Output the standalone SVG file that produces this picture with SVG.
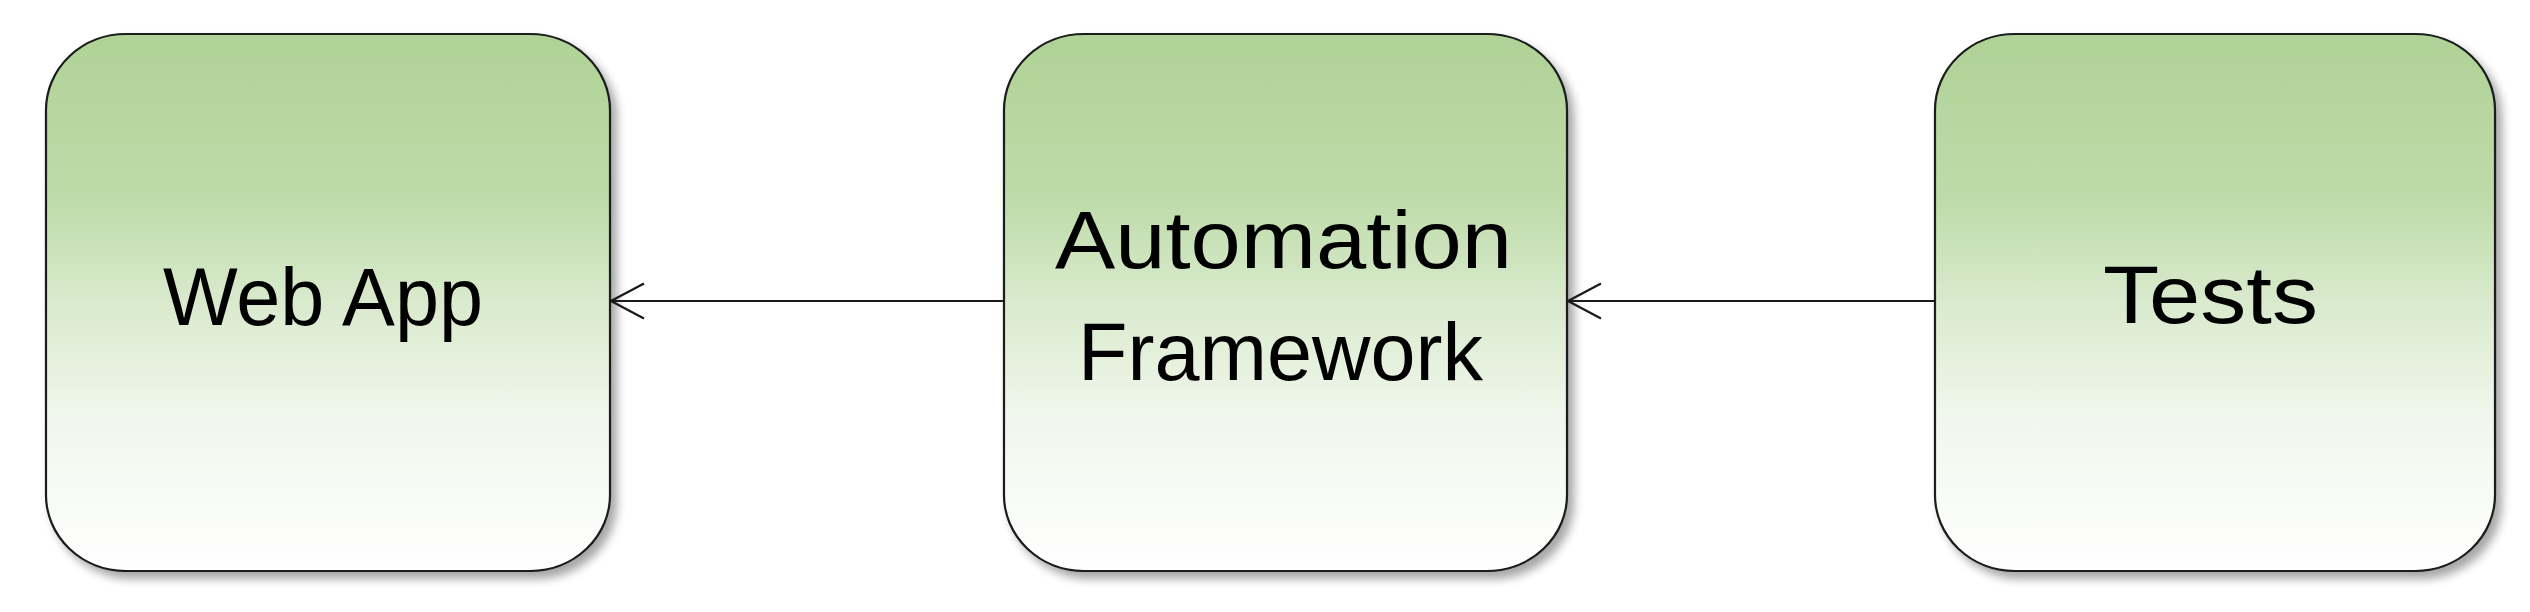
<svg xmlns="http://www.w3.org/2000/svg" width="2530" height="612" viewBox="0 0 2530 612">
<defs>
<linearGradient id="g" x1="0" y1="0" x2="0" y2="1">
<stop offset="0" stop-color="#afd296"/>
<stop offset="0.3" stop-color="#bddba8"/>
<stop offset="0.5" stop-color="#d9eacd"/>
<stop offset="0.72" stop-color="#f1f7ed"/>
<stop offset="1" stop-color="#ffffff"/>
</linearGradient>
<filter id="sh" x="-10%" y="-10%" width="125%" height="125%">
<feGaussianBlur in="SourceAlpha" stdDeviation="5"/>
<feOffset dx="6" dy="7" result="b"/>
<feComponentTransfer><feFuncA type="linear" slope="0.35"/></feComponentTransfer>
<feMerge><feMergeNode/><feMergeNode in="SourceGraphic"/></feMerge>
</filter>
<marker id="arr" viewBox="0 0 40 40" refX="38" refY="20" markerWidth="40" markerHeight="40" markerUnits="userSpaceOnUse" orient="auto">
<path d="M5 2.5 L38 20 L5 37.5" fill="none" stroke="#1a1a1a" stroke-width="2.2"/>
</marker>
</defs>
<style>
.box{fill:url(#g);stroke:#1a1a1a;stroke-width:2.2;filter:url(#sh)}
.lbl{font-family:"Liberation Sans","DejaVu Sans",sans-serif;font-size:82px;fill:#000}
.con{stroke:#1a1a1a;stroke-width:2.2;fill:none}
</style>
<rect width="2530" height="612" fill="#ffffff"/>
<g id="webapp">
<rect class="box" x="46" y="34" width="564" height="537" rx="80" ry="76"/>
<text class="lbl" x="163" y="325" textLength="320" lengthAdjust="spacingAndGlyphs">Web App</text>
</g>
<g id="framework">
<rect class="box" x="1004" y="34" width="563" height="537" rx="80" ry="76"/>
<text class="lbl" x="1055" y="268" textLength="457" lengthAdjust="spacingAndGlyphs">Automation</text>
<text class="lbl" x="1078" y="380" textLength="405" lengthAdjust="spacingAndGlyphs">Framework</text>
</g>
<g id="tests">
<rect class="box" x="1935" y="34" width="560" height="537" rx="80" ry="76"/>
<text class="lbl" x="2103" y="323" textLength="215" lengthAdjust="spacingAndGlyphs">Tests</text>
</g>
<g id="connectors">
<line class="con" x1="1004" y1="301" x2="611" y2="301" marker-end="url(#arr)"/>
<line class="con" x1="1935" y1="301" x2="1568" y2="301" marker-end="url(#arr)"/>
</g>
</svg>
